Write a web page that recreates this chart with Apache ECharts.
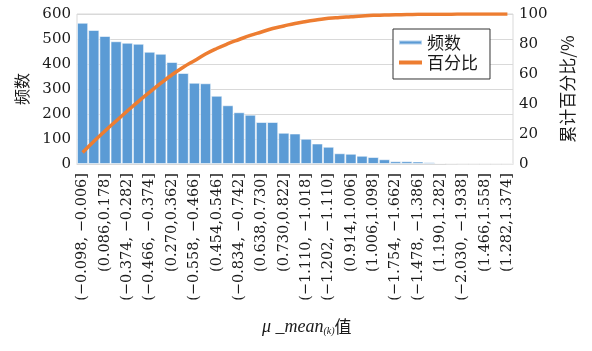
<!DOCTYPE html>
<html>
<head>
<meta charset="utf-8">
<script src="https://cdn.jsdelivr.net/npm/echarts@6/dist/echarts.min.js"></script>
<style>
  html, body { margin: 0; padding: 0; background: #fff; }
  #chart { width: 592px; height: 351px; }
</style>
</head>
<body>
<div id="chart"></div>
<script>
// Interval bins of μ_mean(k), sorted by frequency (Pareto order)
const categories = [
  '(−0.098, −0.006]', '(−0.006,0.086]', '(0.086,0.178]', '(−0.190, −0.098]',
  '(−0.374, −0.282]', '(0.178,0.270]', '(−0.466, −0.374]', '(−0.282, −0.190]',
  '(0.270,0.362]', '(0.362,0.454]', '(−0.558, −0.466]', '(−0.650, −0.558]',
  '(0.454,0.546]', '(0.546,0.638]', '(−0.834, −0.742]', '(−0.742, −0.650]',
  '(0.638,0.730]', '(−0.926, −0.834]', '(0.730,0.822]', '(0.822,0.914]',
  '(−1.110, −1.018]', '(−1.018, −0.926]', '(−1.202, −1.110]', '(−1.294, −1.202]',
  '(0.914,1.006]', '(1.098,1.190]', '(1.006,1.098]', '(−1.386, −1.294]',
  '(−1.754, −1.662]', '(−1.570, −1.478]', '(−1.478, −1.386]', '(−1.662, −1.570]',
  '(1.190,1.282]', '(1.374,1.466]', '(−2.030, −1.938]', '(−1.846, −1.754]',
  '(1.466,1.558]', '(−1.938, −1.846]', '(1.282,1.374]'
];

// Frequency of each bin
const frequency = [
  565, 536, 512, 491, 485, 481, 449, 441, 408, 364,
  325, 323, 273, 235, 207, 197, 168, 168, 125, 122,
  101, 82, 69, 43, 41, 33, 28, 19, 11, 11,
  10, 7, 4, 2, 1, 1, 1, 1, 1
];

// Cumulative percentage (%)
const cumulativePct = [
  7.7, 15.0, 22.0, 28.7, 35.3, 41.8, 47.9, 53.9, 59.5, 64.5,
  68.9, 73.3, 77.0, 80.2, 83.0, 85.7, 88.0, 90.3, 92.0, 93.7,
  95.0, 96.1, 97.1, 97.7, 98.2, 98.7, 99.1, 99.3, 99.5, 99.6,
  99.8, 99.9, 99.9, 99.9, 100, 100, 100, 100, 100
];

// Axis tick values
const freqTicks = [0, 100, 200, 300, 400, 500, 600];
const pctTicks = [0, 20, 40, 60, 80, 100];

const serif = 'DejaVu Serif';
const cjk = 'Noto Sans CJK SC';
const textColor = '#1a1a1a';
const gridColor = '#D9D9D9';

const chart = echarts.init(document.getElementById('chart'), null, { renderer: 'canvas' });

chart.setOption({
  animation: false,
  backgroundColor: '#fff',
  grid: {
    left: 77, right: 79, top: 14, bottom: 187,
    show: true, borderColor: gridColor, borderWidth: 1,
    containLabel: false
  },
  legend: {
    data: ['频数', '百分比'],
    orient: 'vertical',
    left: 393, top: 29,
    padding: [5, 12, 8, 5],
    itemGap: 3,
    itemWidth: 23, itemHeight: 4,
    icon: 'rect',
    borderColor: '#333', borderWidth: 1,
    backgroundColor: '#fff',
    textStyle: { fontFamily: cjk, fontSize: 17, color: textColor, padding: [0, 0, 0, 0] }
  },
  xAxis: {
    type: 'category',
    data: categories,
    boundaryGap: true,
    axisLine: { show: true, lineStyle: { color: gridColor } },
    axisTick: { show: false },
    axisLabel: {
      interval: 1,
      rotate: 90,
      margin: 9,
      fontFamily: serif,
      fontSize: 14.5,
      color: textColor
    }
  },
  yAxis: [
    {
      type: 'value',
      min: freqTicks[0], max: freqTicks[freqTicks.length - 1], interval: freqTicks[1] - freqTicks[0],
      name: '频数',
      nameLocation: 'middle',
      nameRotate: 90,
      nameGap: 47,
      nameTextStyle: { fontFamily: cjk, fontSize: 16, color: textColor },
      axisLine: { show: false },
      axisTick: { show: false },
      axisLabel: { fontFamily: serif, fontSize: 15, color: textColor, margin: 6 },
      splitLine: { lineStyle: { color: gridColor, width: 1 } }
    },
    {
      type: 'value',
      min: pctTicks[0], max: pctTicks[pctTicks.length - 1], interval: pctTicks[1] - pctTicks[0],
      name: '累计百分比/%',
      nameLocation: 'middle',
      nameRotate: 90,
      nameGap: 46,
      nameTextStyle: { fontFamily: cjk, fontSize: 17, color: textColor },
      axisLine: { show: false },
      axisTick: { show: false },
      axisLabel: { fontFamily: serif, fontSize: 15, color: textColor, margin: 6 },
      splitLine: { show: false }
    }
  ],
  series: [
    {
      name: '频数',
      type: 'bar',
      data: frequency,
      barCategoryGap: '0%',
      itemStyle: { color: '#5B9BD5', borderColor: 'rgba(255,255,255,0.55)', borderWidth: 1 }
    },
    {
      name: '百分比',
      type: 'line',
      yAxisIndex: 1,
      data: cumulativePct,
      smooth: true,
      symbol: 'none',
      lineStyle: { color: '#ED7D31', width: 3.5 },
      itemStyle: { color: '#ED7D31' }
    }
  ],
  graphic: [
    {
      type: 'text',
      left: 262,
      top: 318,
      style: {
        text: '{a|μ _mean}{b|(k)}{c|值}',
        fill: textColor,
        rich: {
          a: { fontFamily: 'Liberation Serif', fontStyle: 'italic', fontSize: 18, fill: textColor },
          b: { fontFamily: 'Liberation Serif', fontStyle: 'italic', fontSize: 10, verticalAlign: 'bottom', fill: textColor },
          c: { fontFamily: cjk, fontSize: 17, fill: textColor }
        }
      }
    }
  ]
});
</script>
</body>
</html>
